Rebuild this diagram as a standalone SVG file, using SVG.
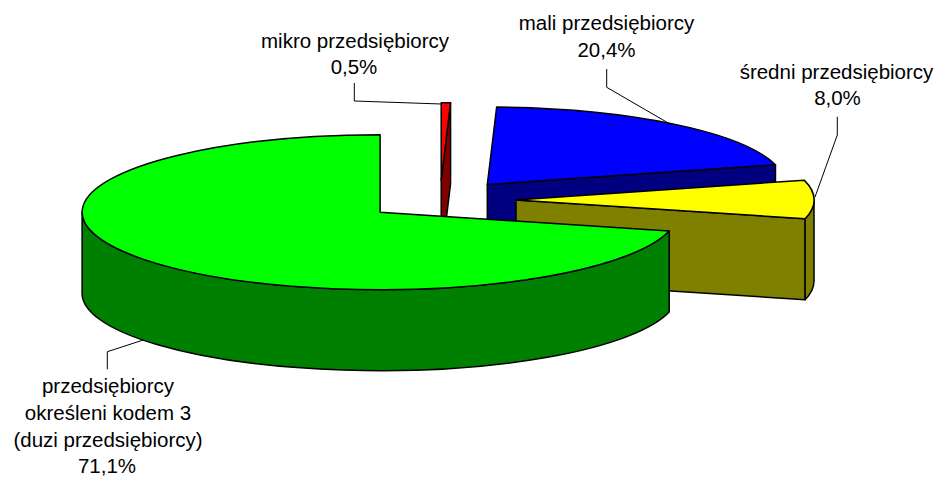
<svg xmlns="http://www.w3.org/2000/svg" width="938" height="478" viewBox="0 0 938 478">
<style>
.e{stroke:#000;stroke-width:1.5;stroke-linejoin:round}
.lbl{font-family:"Liberation Sans",Arial,sans-serif;font-size:20.5px;fill:#000;text-anchor:middle}
.ld{fill:none;stroke:#000;stroke-width:1}
</style>
<rect width="938" height="478" fill="#fff"/>
<g id="mikro">
<polygon class="e" fill="#800000" points="441.2,180.2 450.56,102.74 450.56,183.74 441.2,261.2"/>
<path class="e" fill="#ff0000" d="M441.2,180.2 L441.2,102.7 A298,77.5 0 0,1 450.56,102.74 Z"/>
<text class="lbl" x="355" y="48">mikro przedsiębiorcy</text>
<text class="lbl" x="354" y="74">0,5%</text>
</g>
<g id="mali">
<polygon class="e" fill="#000080" points="487.3,184.5 775.47,164.75 775.47,245.75 487.3,265.5"/>
<path class="e" fill="#0000ff" d="M487.3,184.5 L496.66,107.04 A298,77.5 0 0,1 775.47,164.75 Z"/>
<text class="lbl" x="606.5" y="30">mali przedsiębiorcy</text>
<text class="lbl" x="606.5" y="56.5">20,4%</text>
</g>
<g id="sredni">
<polygon class="e" fill="#808000" points="516,199.9 805.1,218.7 805.1,299.7 516,280.9"/>
<path class="e" fill="#808000" d="M814,199.9 A298,77.5 0 0,1 805.1,218.7 L805.1,299.7 A298,77.5 0 0,0 814,280.9 Z"/>
<path class="e" fill="#ffff00" d="M516,199.9 L804.17,180.15 A298,77.5 0 0,1 805.1,218.7 Z"/>
<text class="lbl" x="836.5" y="78.5">średni przedsiębiorcy</text>
<text class="lbl" x="837.5" y="104.5">8,0%</text>
</g>
<g id="duzi">
<path class="e" fill="#008000" d="M82.1,212.2 A298,77.5 0 0,0 669.2,231 L669.2,312 A298,77.5 0 0,1 82.1,293.2 Z"/>
<path class="e" fill="#00ff00" d="M380.1,212.2 L380.1,134.7 A298,77.5 0 1,0 669.2,231 Z"/>
<text class="lbl" x="108" y="393">przedsiębiorcy</text>
<text class="lbl" x="108" y="420">określeni kodem 3</text>
<text class="lbl" x="108" y="446.5">(duzi przedsiębiorcy)</text>
<text class="lbl" x="107" y="473">71,1%</text>
</g>
<g id="connectors">
<polyline class="ld" points="354.3,83 354.3,101 441.2,104"/>
<polyline class="ld" points="606.7,69 606.7,87.3 671.7,125"/>
<polyline class="ld" points="837.3,116.7 837.3,135 815,197"/>
<polyline class="ld" points="107.3,369.3 107.3,351.7 143.3,340"/>
</g>
</svg>
